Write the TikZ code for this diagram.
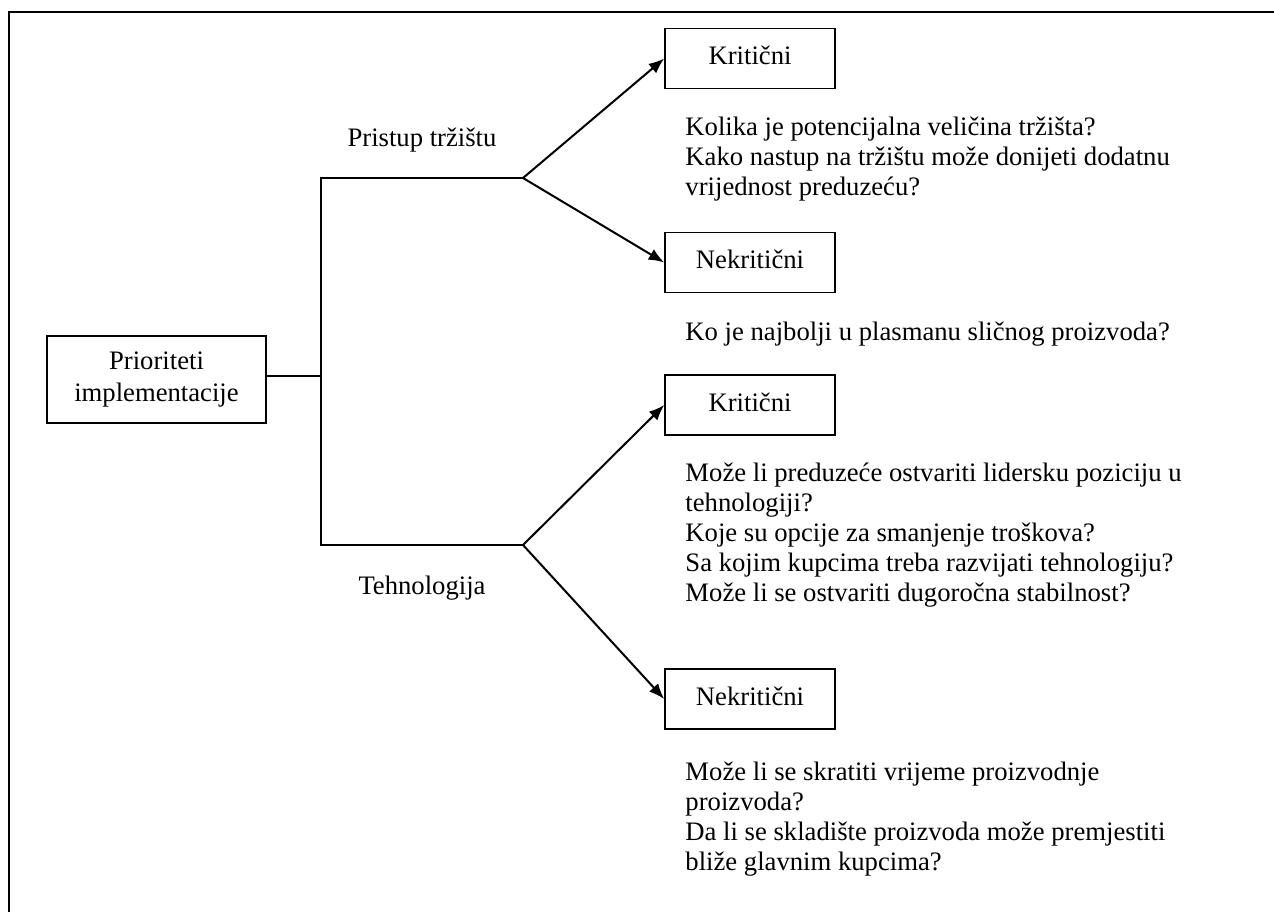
\documentclass[tikz,border=0pt]{standalone}
\usepackage{fontspec}
\setmainfont{Liberation Serif}
\usepackage{tikz}
\usetikzlibrary{arrows.meta,positioning}
\tikzset{
block/.style = {draw, fill=white, rectangle, line width=0.7pt, minimum height=27pt, minimum width=76.5pt, text depth=.25em},
root/.style = {draw, fill=white, rectangle, line width=0.7pt, minimum height=39pt, minimum width=98.5pt, align=center, font=\fontsize{12}{14.4}\selectfont},
tmp/.style  = {coordinate},
branch/.style = {inner sep=0pt},
question/.style = {anchor=north west, inner sep=0pt, align=left}
}

\begin{document}
\begin{tikzpicture}[x=0.45pt, y=-0.45pt, >={Latex[length=7pt,width=5.5pt]}, font=\fontsize{12}{13.5}\selectfont]
					\useasboundingbox (0,0) rectangle (1274,912);
					\draw[line width=0.9pt] (9,912) -- (9,12) -- (1274,12);
					\node[root] (prio) at (156.5,379.5) {Prioriteti\\implementacije};
					\node[tmp] (split) at (321,376) {};
					\node[tmp] (ttop) at (321,178) {};
					\node[tmp] (tbot) at (321,545) {};
					\node[tmp, right of=ttop, node distance=90.9pt] (fork1) {};
					\node[tmp, right of=tbot, node distance=90.9pt] (fork2) {};
					\node[block] (krit1) at (750,58.5) {Kritični};
					\node[block] (nekrit1) at (750,262.5) {Nekritični};
					\node[block] (krit2) at (750,405) {Kritični};
					\node[block] (nekrit2) at (750,699) {Nekritični};
					\node[branch] (pristup) at (422,140) {Pristup tržištu};
					\node[branch] (tehno) at (422,588) {Tehnologija};
					\node[question] (q1) at (685,114) {\strut Kolika je potencijalna veličina tržišta?\\Kako nastup na tržištu može donijeti dodatnu\\vrijednost preduzeću?};
					\node[question] (q2) at (685,319) {\strut Ko je najbolji u plasmanu sličnog proizvoda?};
					\node[question] (q3) at (685,460) {\strut Može li preduzeće ostvariti lidersku poziciju u\\tehnologiji?\\Koje su opcije za smanjenje troškova?\\Sa kojim kupcima treba razvijati tehnologiju?\\Može li se ostvariti dugoročna stabilnost?};
					\node[question] (q4) at (685,759) {\strut Može li se skratiti vrijeme proizvodnje\\proizvoda?\\Da li se skladište proizvoda može premjestiti\\bliže glavnim kupcima?};
					\draw[line width=0.7pt] (prio.east |- split) -- (split);
					\draw[line width=0.7pt] (fork1) -- (ttop) -- (tbot) -- (fork2);
					\draw[->,line width=0.9pt] (fork1) -- (krit1.west);
					\draw[->,line width=0.9pt] (fork1) -- (nekrit1.west);
					\draw[->,line width=0.9pt] (fork2) -- (krit2.west);
					\draw[->,line width=0.9pt] (fork2) -- (nekrit2.west);
				\end{tikzpicture}
\end{document}
